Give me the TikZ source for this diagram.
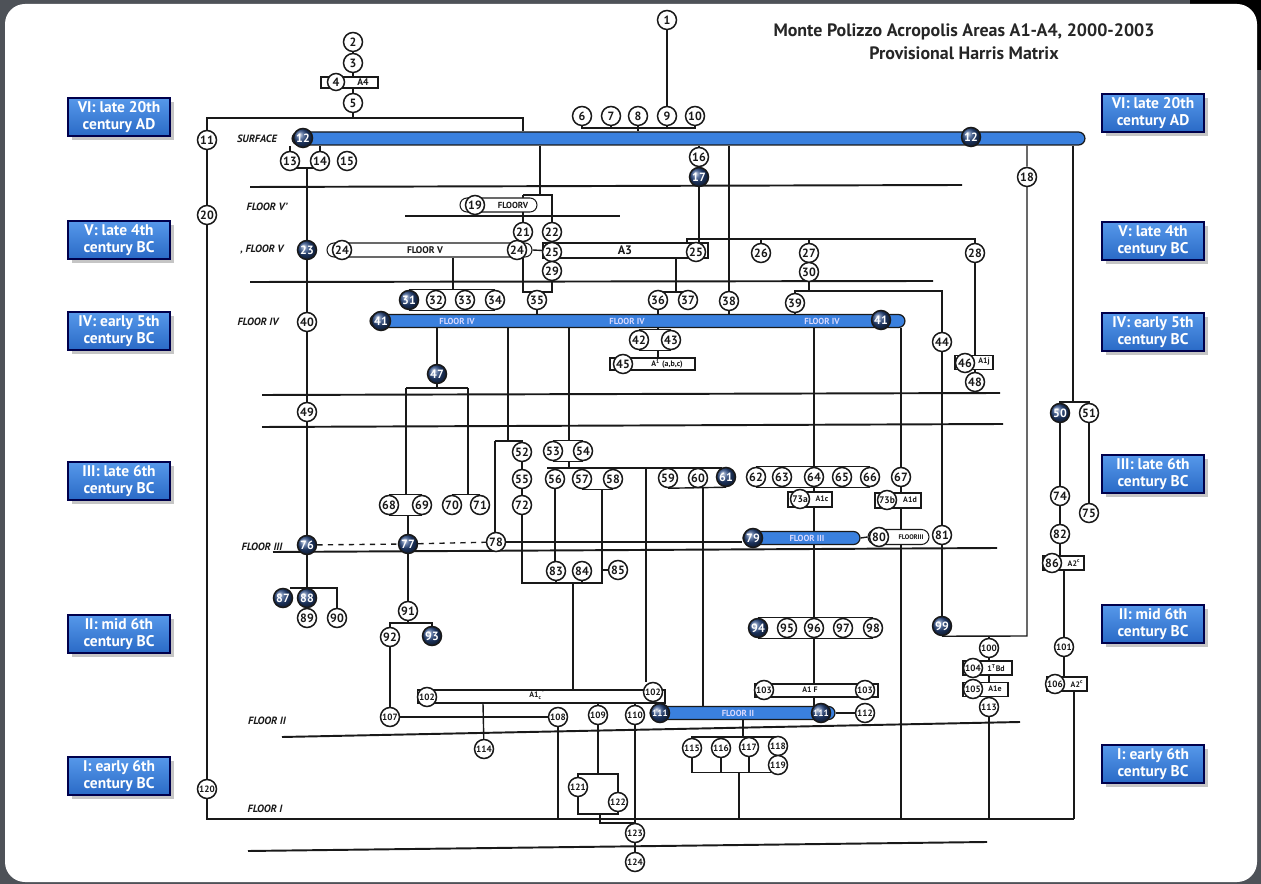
\documentclass[tikz,border=0pt]{standalone}
\usepackage{fontspec}
\setmainfont{PT Sans}
\setsansfont{PT Sans}
\usepackage{tikz}
\usetikzlibrary{backgrounds,shadows}
\definecolor{barblue}{RGB}{58,128,222}
\definecolor{navyball}{RGB}{40,72,130}
\definecolor{periodtop}{RGB}{86,152,234}
\definecolor{periodbot}{RGB}{42,106,198}
\definecolor{framegray}{RGB}{78,82,88}
\definecolor{ink}{RGB}{25,25,25}

\begin{document}
\begin{tikzpicture}[
    x=0.02cm, y=-0.02cm,
    ctx/.style={circle, draw=ink, line width=0.85pt, fill=white, inner sep=0pt, minimum size=0.38cm, font=\fontsize{6.8}{6.8}\selectfont\bfseries, text=ink},
    ctxs/.style={ctx, font=\fontsize{5.2}{5.2}\selectfont\bfseries},
    dctx/.style={ctx, ball color=navyball, text=white},
    dctxs/.style={dctx, font=\fontsize{5.2}{5.2}\selectfont\bfseries},
    floorbar/.style={draw=ink, line width=0.7pt, fill=barblue, rounded corners=0.13cm, minimum height=0.26cm, inner sep=0pt},
    bartext/.style={font=\fontsize{5}{5}\selectfont\bfseries, text=white!85!blue, inner sep=0pt},
    tagbox/.style={draw=ink, line width=0.6pt, fill=white, inner sep=0pt, minimum height=0.26cm},
    tagtext/.style={font=\fontsize{4.5}{4.5}\selectfont\bfseries, text=ink, inner sep=0pt},
    floorlbl/.style={font=\fontsize{6}{6}\selectfont\bfseries\itshape, text=ink},
    period/.style={draw=black!70!blue, line width=0.6pt, top color=periodtop, bottom color=periodbot, minimum width=2.04cm, minimum height=0.76cm, align=center, text=white, font=\fontsize{8.8}{9.8}\selectfont\bfseries, drop shadow={opacity=0.45, shadow xshift=2pt, shadow yshift=-2pt}, inner sep=1pt},
    floorline/.style={line width=1.1pt, ink},
    conn/.style={line width=0.8pt, ink}
]
\useasboundingbox (0,0) rectangle (1261,884);
\begin{scope}[on background layer]
\fill[framegray] (0,0) rectangle (1261,884);
\fill[black] (1190,0) rectangle (1261,70);
\fill[white, rounded corners=0.4cm] (5,4) rectangle (1257,882);
\end{scope}

% title and periods
\node[font=\fontsize{10.2}{13}\selectfont\bfseries, text=black!85, align=center] (title) at (964,42) {Monte Polizzo Acropolis Areas A1-A4, 2000-2003\\Provisional Harris Matrix};
\node[period] (pL6) at (119,117) {VI: late 20th\\century AD};
\node[period] (pL5) at (119,240) {V: late 4th\\century BC};
\node[period] (pL4) at (119,331) {IV: early 5th\\century BC};
\node[period] (pL3) at (119,481) {III: late 6th\\century BC};
\node[period] (pL2) at (119,634) {II: mid 6th\\century BC};
\node[period] (pL1) at (119,776) {I: early 6th\\century BC};
\node[period] (pR6) at (1153,113) {VI: late 20th\\century AD};
\node[period] (pR5) at (1153,241) {V: late 4th\\century BC};
\node[period] (pR4) at (1153,332) {IV: early 5th\\century BC};
\node[period] (pR3) at (1153,474) {III: late 6th\\century BC};
\node[period] (pR2) at (1153,624) {II: mid 6th\\century BC};
\node[period] (pR1) at (1153,764) {I: early 6th\\century BC};

% floor labels
\node[floorlbl] (lSurf) at (257,139) {SURFACE};
\node[floorlbl] (lV1) at (267,207) {FLOOR V'};
\node[floorlbl] (lV) at (262,250) {, FLOOR V};
\node[floorlbl] (lIV) at (258,322) {FLOOR IV};
\node[floorlbl] (lIII) at (262,547) {FLOOR III};
\node[floorlbl] (lII) at (267,721) {FLOOR II};
\node[floorlbl] (lI) at (265,809) {FLOOR I};

% floor bars
\node[floorbar, minimum width=15.86cm] (surf) at (688.5,138.5) {};
\node[floorbar, minimum width=10.7cm] (fl4) at (637.5,321) {};
\node[bartext] at (457,321) {FLOOR IV};
\node[bartext] at (627,321) {FLOOR IV};
\node[bartext] at (822,321) {FLOOR IV};
\node[floorbar, minimum width=2.34cm] (fl3) at (801.5,538) {};
\node[bartext] at (807,538) {FLOOR III};
\node[floorbar, minimum width=3.7cm] (fl2) at (742.5,713) {};
\node[bartext] at (738,713) {FLOOR II};

% boxes
\node[tagbox, minimum width=1.14cm, minimum height=0.22cm] (bA4) at (349.5,82.5) {};
\node[tagtext, font=\fontsize{5.5}{5.5}\selectfont\bfseries] at (363,82) {A4};
\node[tagbox, minimum width=1.54cm, minimum height=0.28cm, rounded corners=0.14cm] (b19) at (498.5,205) {};
\node[tagtext, font=\fontsize{5}{5}\selectfont\bfseries] at (513,205) {FLOORV};
\node[tagbox, minimum width=4.1cm, minimum height=0.28cm, rounded corners=0.14cm] (fv) at (429.5,250) {};
\node[tagtext, font=\fontsize{5.5}{5.5}\selectfont\bfseries] at (425,250) {FLOOR V};
\node[tagbox, minimum width=3.3cm, minimum height=0.3cm] (a3) at (625.5,250.5) {};
\node[tagtext, font=\fontsize{7}{7}\selectfont\bfseries] at (625,250) {A3};
\node[tagbox, minimum width=1.7cm, minimum height=0.24cm] (b45) at (652.5,364) {};
\node[tagtext] at (667,364) {A\textsuperscript{1} (a,b,c)};
\node[tagbox, minimum width=0.76cm, minimum height=0.28cm] (b46) at (974,362.5) {};
\node[tagtext] at (984,362) {A1j};
\node[tagbox, minimum width=0.88cm, minimum height=0.3cm] (b73a) at (810,499.5) {};
\node[tagtext] at (822,499) {A1c};
\node[tagbox, minimum width=0.92cm, minimum height=0.3cm] (b73b) at (898,500.5) {};
\node[tagtext] at (910,500) {A1d};
\node[tagbox, minimum width=1.22cm, minimum height=0.3cm, rounded corners=0.15cm] (b80) at (898.5,537) {};
\node[tagtext, font=\fontsize{3.8}{3.8}\selectfont\bfseries] at (911,537) {FLOORIII};
\node[tagbox, minimum width=0.82cm, minimum height=0.28cm] (b86) at (1063.5,563) {};
\node[tagtext] at (1074,563) {A2\textsuperscript{c}};
\node[tagbox, minimum width=4.96cm, minimum height=0.26cm] (b102) at (541,696.5) {};
\node[tagtext] at (537,695) {A1\textsubscript{c}\textsuperscript{*}};
\node[tagbox, minimum width=2.46cm, minimum height=0.26cm] (b103) at (816.5,690.5) {};
\node[tagtext] at (810,690) {A1 F};
\node[tagbox, minimum width=0.98cm, minimum height=0.28cm] (b104) at (987.5,668) {};
\node[tagtext] at (996,668) {1\textsuperscript{T}Bd};
\node[tagbox, minimum width=0.9cm, minimum height=0.28cm] (b105) at (985.5,689.5) {};
\node[tagtext] at (995,689) {A1e};
\node[tagbox, minimum width=0.8cm, minimum height=0.28cm] (b106) at (1067,684) {};
\node[tagtext] at (1077,684) {A2\textsuperscript{c}};

% contexts
\node[ctx] (c1) at (667,20) {1};
\node[ctx] (c2) at (353,42) {2};
\node[ctx] (c3) at (353,63) {3};
\node[ctx, minimum size=0.34cm] (c4) at (336,82) {4};
\node[ctx] (c5) at (353,103) {5};
\node[ctx] (c6) at (582,116) {6};
\node[ctx] (c7) at (611,116) {7};
\node[ctx] (c8) at (638,116) {8};
\node[ctx] (c9) at (667,116) {9};
\node[ctx] (c10) at (695,116) {10};
\node[ctx] (c11) at (207,140) {11};
\node[dctx] (c12a) at (303,138) {12};
\node[dctx] (c12b) at (971,137) {12};
\node[ctx] (c13) at (290,161) {13};
\node[ctx] (c14) at (320,161) {14};
\node[ctx] (c15) at (347,161) {15};
\node[ctx] (c16) at (699,157) {16};
\node[dctx] (c17) at (699,177) {17};
\node[ctx] (c18) at (1027,177) {18};
\node[ctx] (c19) at (475,205) {19};
\node[ctx] (c20) at (207,215) {20};
\node[ctx] (c21) at (523,232) {21};
\node[ctx] (c22) at (552,232) {22};
\node[dctx] (c23) at (307,250) {23};
\node[ctx] (c24a) at (342,250) {24};
\node[ctx] (c24b) at (517,250) {24};
\node[ctx] (c25a) at (552,252) {25};
\node[ctx] (c25b) at (696,252) {25};
\node[ctx] (c26) at (761,253) {26};
\node[ctx] (c27) at (809,253) {27};
\node[ctx] (c28) at (975,253) {28};
\node[ctx] (c29) at (552,271) {29};
\node[ctx] (c30) at (809,272) {30};
\node[dctx] (c31) at (409,300) {31};
\node[ctx] (c32) at (436,300) {32};
\node[ctx] (c33) at (465,300) {33};
\node[ctx] (c34) at (495,300) {34};
\node[ctx] (c35) at (537,300) {35};
\node[ctx] (c36) at (658,300) {36};
\node[ctx] (c37) at (688,300) {37};
\node[ctx] (c38) at (729,301) {38};
\node[ctx] (c39) at (795,303) {39};
\node[ctx] (c40) at (307,322) {40};
\node[dctx] (c41a) at (381,321) {41};
\node[dctx] (c41b) at (881,320) {41};
\node[ctx] (c42) at (639,340) {42};
\node[ctx] (c43) at (671,340) {43};
\node[ctx] (c44) at (942,342) {44};
\node[ctx] (c45) at (623,364) {45};
\node[ctx] (c46) at (965,363) {46};
\node[dctx] (c47) at (437,374) {47};
\node[ctx] (c48) at (975,382) {48};
\node[ctx] (c49) at (307,412) {49};
\node[dctx] (c50) at (1060,413) {50};
\node[ctx] (c51) at (1089,413) {51};
\node[ctx] (c52) at (522,452) {52};
\node[ctx] (c53) at (553,451) {53};
\node[ctx] (c54) at (583,451) {54};
\node[ctx] (c55) at (522,479) {55};
\node[ctx] (c56) at (555,479) {56};
\node[ctx] (c57) at (582,479) {57};
\node[ctx] (c58) at (613,479) {58};
\node[ctx] (c59) at (668,478) {59};
\node[ctx] (c60) at (698,478) {60};
\node[dctx] (c61) at (726,477) {61};
\node[ctx] (c62) at (756,477) {62};
\node[ctx] (c63) at (782,477) {63};
\node[ctx] (c64) at (814,477) {64};
\node[ctx] (c65) at (842,477) {65};
\node[ctx] (c66) at (870,477) {66};
\node[ctx] (c67) at (901,477) {67};
\node[ctx] (c68) at (389,505) {68};
\node[ctx] (c69) at (422,505) {69};
\node[ctx] (c70) at (452,505) {70};
\node[ctx] (c71) at (480,505) {71};
\node[ctx] (c72) at (522,505) {72};
\node[ctx, font=\fontsize{5.4}{5.4}\selectfont\bfseries] (c73a) at (800,499) {73a};
\node[ctx, font=\fontsize{5.4}{5.4}\selectfont\bfseries] (c73b) at (887,500) {73b};
\node[ctx] (c74) at (1060,496) {74};
\node[ctx] (c75) at (1089,513) {75};
\node[dctx] (c76) at (307,545) {76};
\node[dctx] (c77) at (408,544) {77};
\node[ctx] (c78) at (496,542) {78};
\node[dctx] (c79) at (753,538) {79};
\node[ctx] (c80) at (879,537) {80};
\node[ctx] (c81) at (942,535) {81};
\node[ctx] (c82) at (1060,534) {82};
\node[ctx] (c83) at (556,571) {83};
\node[ctx] (c84) at (582,571) {84};
\node[ctx] (c85) at (618,570) {85};
\node[ctx] (c86) at (1052,563) {86};
\node[dctx] (c87) at (283,598) {87};
\node[dctx] (c88) at (307,598) {88};
\node[ctx] (c89) at (307,618) {89};
\node[ctx] (c90) at (337,618) {90};
\node[ctx] (c91) at (408,611) {91};
\node[ctx] (c92) at (390,637) {92};
\node[dctx] (c93) at (432,636) {93};
\node[dctx] (c94) at (758,628) {94};
\node[ctx] (c95) at (787,628) {95};
\node[ctx] (c96) at (814,628) {96};
\node[ctx] (c97) at (843,628) {97};
\node[ctx] (c98) at (873,628) {98};
\node[dctx] (c99) at (942,626) {99};
\node[ctxs] (c100) at (989,648) {100};
\node[ctxs] (c101) at (1064,647) {101};
\node[ctxs] (c102a) at (427,697) {102};
\node[ctxs] (c102b) at (653,692) {102};
\node[ctxs] (c103a) at (764,690) {103};
\node[ctxs] (c103b) at (865,690) {103};
\node[ctxs] (c104) at (973,668) {104};
\node[ctxs] (c105) at (973,689) {105};
\node[ctxs] (c106) at (1055,684) {106};
\node[ctxs] (c107) at (390,717) {107};
\node[ctxs] (c108) at (558,717) {108};
\node[ctxs] (c109) at (598,715) {109};
\node[ctxs] (c110) at (635,715) {110};
\node[dctxs] (c111a) at (660,713) {111};
\node[dctxs] (c111b) at (821,713) {111};
\node[ctxs] (c112) at (865,713) {112};
\node[ctxs] (c113) at (989,707) {113};
\node[ctxs] (c114) at (484,749) {114};
\node[ctxs] (c115) at (692,748) {115};
\node[ctxs] (c116) at (721,748) {116};
\node[ctxs] (c117) at (749,747) {117};
\node[ctxs] (c118) at (778,746) {118};
\node[ctxs] (c119) at (778,765) {119};
\node[ctxs] (c120) at (207,789) {120};
\node[ctxs] (c121) at (578,787) {121};
\node[ctxs] (c122) at (618,802) {122};
\node[ctxs] (c123) at (635,833) {123};
\node[ctxs] (c124) at (635,862) {124};

% junctions
\coordinate (k5) at (523,118);
\coordinate (k6) at (582,128);
\coordinate (k13) at (290,168);
\coordinate (k19) at (540,195);
\coordinate (k19l) at (523,195);
\coordinate (k19r) at (552,195);
\coordinate (k28) at (687,239);
\coordinate (k39) at (795,291);
\coordinate (k31) at (453,0);
\coordinate (k35l) at (523,292);
\coordinate (k35r) at (552,292);
\coordinate (k36) at (676,292);
\coordinate (k47l) at (406,388);
\coordinate (k47r) at (468,388);
\coordinate (k50) at (1073,402);
\coordinate (k52) at (508,441);
\coordinate (k52l) at (495,441);
\coordinate (k53) at (569,0);
\coordinate (k56) at (547,468);
\coordinate (k61) at (722,468);
\coordinate (k58) at (602,0);
\coordinate (k60) at (703,0);
\coordinate (k64) at (814,0);
\coordinate (k84) at (603,583);
\coordinate (k102) at (573,0);
\coordinate (k646) at (646,468);
\coordinate (k88) at (290,588);
\coordinate (k92) at (390,623);
\coordinate (k99) at (1027,636);
\coordinate (k114) at (483,0);
\coordinate (k116) at (743,737);
\coordinate (k117) at (739,0);
\coordinate (k121) at (578,774);
\coordinate (k122) at (578,814);
\coordinate (k123) at (600,823);
\coordinate (kIl) at (207,819);
\coordinate (kIr) at (1074,819);

\begin{scope}[on background layer]
% interfaces
\draw[floorline] (250,187) -- (962,185);
\draw[floorline, line width=0.8pt] (405,216) -- (620,216);
\draw[floorline] (250,282) -- (933,281);
\draw[floorline] (262,395) -- (1000,393);
\draw[floorline] (262,427) -- (1003,424);
\draw[floorline] (273,552) -- (997,548);
\draw[floorline] (282,737) -- (1020,722);
\draw[floorline] (248,851) -- (987,842);

% surface and above
\draw[conn] (c1) -- (c9);
\draw[conn] (c2) -- (c5);
\draw[conn] (c5) -- (c5 |- k5);
\draw[conn] (c11) |- (k5) -- (k5 |- surf.north);
\draw[conn] (c6) |- (c10 |- k6) -- (c10);
\foreach \n in {7,8,9} \draw[conn] (c\n) -- (c\n |- k6);
\draw[conn] (c8 |- k6) -- (c8 |- surf.north);
\draw[conn] (c13) -- (c13 |- surf.south);
\draw[conn] (c14) -- (c14 |- surf.south);
\draw[conn] (c13) |- (c14 |- k13) -- (c14);
\draw[conn] (c23 |- k13) -- (c23);
\draw[conn] (c11) -- (c20) -- (c120) -- (kIl) -- (kIr);
\draw[conn] (k19 |- surf.south) -- (k19);
\draw[conn] (k19l) -- (k19r) -- (c22);
\draw[conn] (k19l) -- (c21);
\draw[conn] (c16) -- (c16 |- surf.south);
\draw[conn] (c16) -- (c17) -- (c17 |- a3.north);
\draw[conn] (c38 |- surf.south) -- (c38);
\draw[conn] (c18 |- surf.south) -- (c18) -- (k99) -- (c99.south);
\draw[conn] (k50 |- surf.south) -- (k50);
\draw[conn] (c50) |- (c51 |- k50) -- (c51);

% floor V
\draw[conn] (c22) -- (c25a) -- (c29);
\draw[conn] (fv.east) -- (a3.west);
\draw[conn] (k28 |- a3.north) -- (k28) -| (c28);
\draw[conn] (c26) -- (c26 |- k28);
\draw[conn] (c27) -- (c27 |- k28);
\draw[conn] (c27) -- (c30) -- (c30 |- k39);
\draw[conn] (c39) -- (k39) -| (c44);
\draw[conn] (c44) -- (c81) -- (c99);
\draw[conn] (c28) -- (c28 |- b46.north);
\draw[conn] (c48) -- (c48 |- b46.south);

% floor IV
\draw[conn] (c23) -- (c40) -- (c49) -- (c76);
\draw[conn] (k31 |- fv.south) -- (k31 |- c31.north);
\draw[conn] (c31.north) -- (c34.north);
\draw[conn] (c31.south) -- (c34.south);
\draw[conn] (k35l |- fv.south) -- (k35l) -- (k35r) -- (c29);
\draw[conn] (c35 |- k35l) -- (c35) -- (c35 |- fl4.north);
\draw[conn] (k36 |- a3.south) -- (k36);
\draw[conn] (c36) |- (c37 |- k36) -- (c37);
\draw[conn] (c36) -- (c36 |- fl4.north);
\draw[conn] (c38) -- (c38 |- fl4.north);
\draw[conn] (c39) -- (c39 |- fl4.north);
\draw[conn] (c36 |- fl4.south) -- (c36 |- c42.north);
\draw[conn] (c42.north) -- (c43.north);
\draw[conn] (c42.south) -- (c43.south);
\draw[conn] (c36 |- c42.south) -- (c36 |- b45.north);
\draw[conn] (c47 |- fl4.south) -- (c47) -- (c47 |- k47l);
\draw[conn] (k47l) -- (k47r);
\draw[conn] (k47l) -- (k47l |- c68.north);
\draw[conn] (k47r) -- (k47r |- c70.north);
\draw[conn] (c68.north) -- (c69.north);
\draw[conn] (c68.south) -- (c69.south);
\draw[conn] (c70.north) -- (c71.north);
\draw[conn] (c77 |- c68.south) -- (c77);
\draw[conn] (k52 |- fl4.south) -- (k52);
\draw[conn] (k52l) -- (k52l -| c52) -- (c52);
\draw[conn] (k52l) -- (k52l |- c78.north);
\draw[conn] (c52) -- (c55) -- (c72);
\draw[conn] (c72) |- (k84);
\draw[conn] (k53 |- fl4.south) -- (k53 |- c53.north);
\draw[conn] (c53.north) -- (c54.north);
\draw[conn] (c53.south) -- (c54.south);
\draw[conn] (k53 |- c53.south) -- (k53 |- k56);
\draw[conn] (k56) -- (k61);
\foreach \n in {56,57,58,59,60,61} \draw[conn] (c\n) -- (c\n |- k56);
\draw[conn] (c57.south) -- (c58.south);
\draw[conn] (k58 |- c57.south) -- (k58 |- k84);
\draw[conn] (k58 |- c85) -- (c85);
\draw[conn] (c59.south) -- (c61.south);
\draw[conn] (k60 |- c59.south) -- (k60 |- fl2.north);
\draw[conn] (c56) -- (c56 |- c83.north);
\draw[conn] (c83) -- (c83 |- k84);
\draw[conn] (c84) -- (c84 |- k84);
\draw[conn] (k102 |- k84) -- (k102 |- b102.north);
\draw[conn] (k646) -- (k646 |- c102b.north);
\draw[conn] (k64 |- fl4.south) -- (k64 |- c62.north);
\draw[conn] (c62.north) -- (c66.north);
\draw[conn] (c62.south) -- (c66.south);
\draw[conn] (c64) -- (c96) -- (c96 |- b103.north);
\draw[conn] (c96 |- b103.south) -- (c96 |- fl2.north);
\draw[conn] (c94.north) -- (c98.north);
\draw[conn] (c94.south) -- (c98.south);
\draw[conn] (c67 |- fl4.south) -- (c67) -- (c67 |- kIl);

% floor III
\draw[conn, dashed] (c76) -- (c77) -- (c78);
\draw[conn] (c78) -- (c78 -| fl3.west);
\draw[conn] (fl3.east) -- (b80.west);
\draw[conn] (c76) -- (c88) -- (c89);
\draw[conn] (k88) -| (c90);
\draw[conn] (c77) -- (c91) -- (c91 |- k92);
\draw[conn] (c92) |- (c93 |- k92) -- (c93);
\draw[conn] (c50) -- (c74) -- (c82) -- (c82 |- b86.north);
\draw[conn] (c101 |- b86.south) -- (c101) -- (c101 |- b106.north);
\draw[conn] (kIr |- b106.south) -- (kIr);
\draw[conn] (c51) -- (c75);

% floor II and I
\draw[conn] (c92) -- (c107) -- (c108);
\draw[conn] (k114 |- b102.south) -- (c114);
\draw[conn] (c109 |- b102.south) -- (c109);
\draw[conn] (c110 |- b102.south) -- (c110);
\draw[conn] (fl2.east) -- (c112);
\draw[conn] (k116 |- fl2.south) -- (k116);
\draw[conn] (c115) |- (c118 |- k116) -- (c118) -- (c119);
\draw[conn] (c116) -- (c116 |- k116);
\draw[conn] (c117) -- (c117 |- k116);
\draw[conn] (c115) |- (c119.south west);
\draw[conn] (c116) -- (c116 |- c119.south west);
\draw[conn] (c117) -- (c117 |- c119.south west);
\draw[conn] (k117 |- c119.south west) -- (k117 |- kIl);
\draw[conn] (c109) -- (c109 |- k121);
\draw[conn] (c121) |- (c122 |- k121) -- (c122);
\draw[conn] (c121) -- (c121 |- k122) -| (c122);
\draw[conn] (k123 |- k122) -- (k123) -- (k123 -| c110);
\draw[conn] (c110) -- (c123) -- (c124);
\draw[conn] (c108) -- (c108 |- kIl);
\draw[conn] (c100) -- (c100 |- k99);
\draw[conn] (c100) -- (c113);
\draw[conn] (c113) -- (c113 |- kIl);
\end{scope}
\end{tikzpicture}
\end{document}
